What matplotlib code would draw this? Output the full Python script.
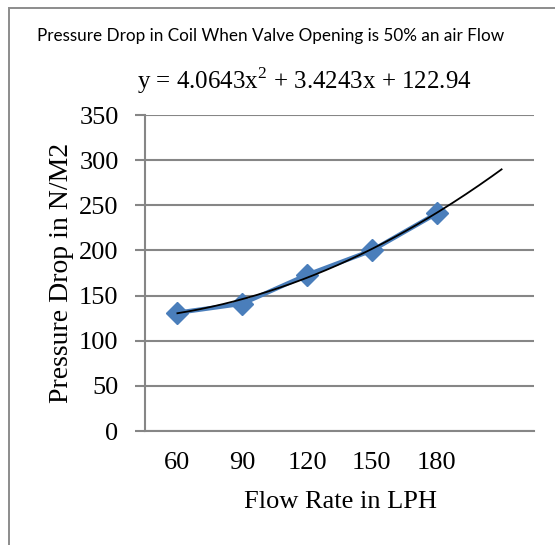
import matplotlib
matplotlib.use("Agg")
import matplotlib.pyplot as plt
import numpy as np
from matplotlib.patches import Rectangle

# Data
categories = ["60", "90", "120", "150", "180"]
pressure_drop = [131, 141, 173, 200, 241]
trend_coeffs = [4.0643, 3.4243, 122.94]  # a*x^2 + b*x + c (x = category index)
forecast_forward = 1
title = "Pressure Drop in Coil When Valve Opening is 50% an air Flow"
equation = r"y = 4.0643x$^{\mathrm{2}}$ + 3.4243x + 122.94"
x_label = "Flow Rate in LPH"
y_label = "Pressure Drop in N/M2"
y_ticks = [0, 50, 100, 150, 200, 250, 300, 350]

plt.rcParams["mathtext.fontset"] = "custom"
plt.rcParams["mathtext.rm"] = "Liberation Serif"

W, H = 555, 545
fig = plt.figure(figsize=(W / 100, H / 100), dpi=100)
fig.patch.set_facecolor("white")

serif = ["Liberation Serif", "DejaVu Serif"]
grid_col = "#868686"

# outer chart frame (cropped on right and bottom)
fig.patches.append(Rectangle((9 / W, -0.05), 1.2, 1 - 8 / H + 0.05,
                             transform=fig.transFigure, fill=False,
                             edgecolor="#8c8c8c", linewidth=1.4))

ax = fig.add_axes([145 / W, 1 - 431 / H, (534 - 145) / W, (431 - 115) / H])
ax.set_facecolor("none")

xs = np.arange(1, len(categories) + 1)
ax.plot(xs, pressure_drop, color="#4a7ebb", linewidth=3.2, marker="D",
        markersize=11, markerfacecolor="#4a7ebb", markeredgecolor="#4a7ebb",
        zorder=3, solid_joinstyle="round")

xt = np.linspace(1, len(categories) + forecast_forward, 200)
a, b, c = trend_coeffs
ax.plot(xt, a * xt ** 2 + b * xt + c, color="black", linewidth=1.3, zorder=4)

ax.set_xlim(0.5, len(categories) + forecast_forward + 0.5)
ax.set_ylim(0, 350)
ax.set_yticks(y_ticks)
ax.set_xticks(xs)
ax.set_xticklabels(categories)
ax.yaxis.grid(True, color=grid_col, linewidth=1.5)
ax.set_axisbelow(True)
for s in ["top", "right"]:
    ax.spines[s].set_visible(False)
ax.spines["left"].set_color(grid_col)
ax.spines["left"].set_linewidth(1.5)
ax.spines["bottom"].set_color(grid_col)
ax.spines["bottom"].set_linewidth(1.5)
ax.tick_params(axis="y", length=7, width=1.5, color=grid_col, pad=12,
               labelsize=19)
ax.tick_params(axis="x", length=0, pad=15, labelsize=19)
for lab in ax.get_xticklabels() + ax.get_yticklabels():
    lab.set_family(serif)

fig.text(62 / W, 1 - 273 / H, y_label, rotation=90, ha="center", va="center",
         fontsize=20, family=serif)
fig.text(340 / W, 1 - 502 / H, x_label, ha="center", va="center",
         fontsize=19, family=serif)
fig.text(304 / W, 1 - 81 / H, equation, ha="center", va="center",
         fontsize=18, family=serif)
fig.text(271 / W, 1 - 36 / H, title, ha="center", va="center",
         fontsize=12.3, family=["Lato", "DejaVu Sans"])

fig.savefig("out.png", dpi=100)
